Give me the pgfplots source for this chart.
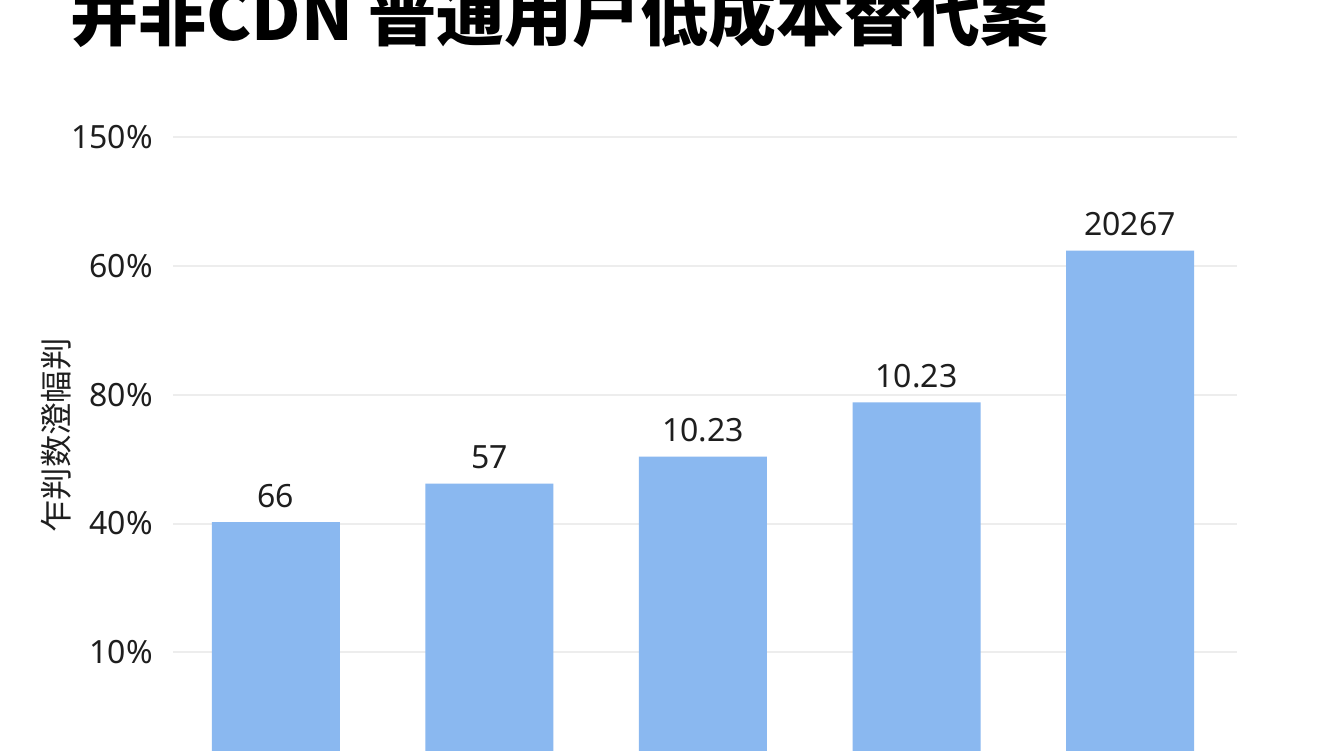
\documentclass[border=0pt]{standalone}
\usepackage{fontspec}
\usepackage{pgfplots}
\usepackage{pgfplotstable}
\pgfplotsset{compat=1.18}
\setmainfont{Noto Sans}
\newfontfamily\cjk{Noto Sans CJK SC}
\definecolor{barblue}{HTML}{8AB8F0}
\definecolor{gridc}{HTML}{EDEDED}
\definecolor{txt}{HTML}{1E1E1E}
\pgfplotstableread{
x h lab
0 2.01 66
1 2.31 57
2 2.52 10.23
3 2.94 10.23
4 4.12 20267
}\bars
\begin{document}
\begin{tikzpicture}
\useasboundingbox (0,0) rectangle (672pt,375pt);
\clip (0,0) rectangle (672pt,375pt);
\fill[white] (0,0) rectangle (672pt,375pt);
\begin{axis}[
  at={(86.5pt,-15.5pt)}, anchor=south west,
  scale only axis, width=532pt, height=334.75pt,
  xmin=-0.482, xmax=4.501, ymin=0, ymax=5.2,
  axis line style={draw=none},
  ytick={1,2,3,4,5},
  yticklabels={10\%,40\%,80\%,60\%,150\%},
  xtick=\empty,
  ymajorgrids, grid style={gridc, line width=1pt},
  major tick length=0pt,
  yticklabel style={font=\fontsize{16pt}{18pt}\selectfont, text=txt, inner sep=0pt, anchor=east, xshift=-10pt},
  ylabel={\cjk 乍判数澄幅判},
  ylabel style={font=\fontsize{16.2pt}{18pt}\selectfont, text=txt, at={(axis description cs:-0.1100,0.516)}, anchor=center, rotate=0},
  clip=false,
]
\addplot[ybar, bar width=64pt, fill=barblue, draw=none,
  point meta=explicit symbolic,
  nodes near coords,
  nodes near coords style={font=\fontsize{16pt}{18pt}\selectfont, text=txt, anchor=base, yshift=7.5pt, inner sep=0pt}]
  table[x=x, y=h, meta=lab] {\bars};
\end{axis}
\node[anchor=base west, inner sep=0pt, font=\cjk\bfseries\fontsize{34pt}{38pt}\selectfont, text=black] at (35pt,354.5pt) {并非CDN 普通用户低成本替代案};
\end{tikzpicture}
\end{document}
